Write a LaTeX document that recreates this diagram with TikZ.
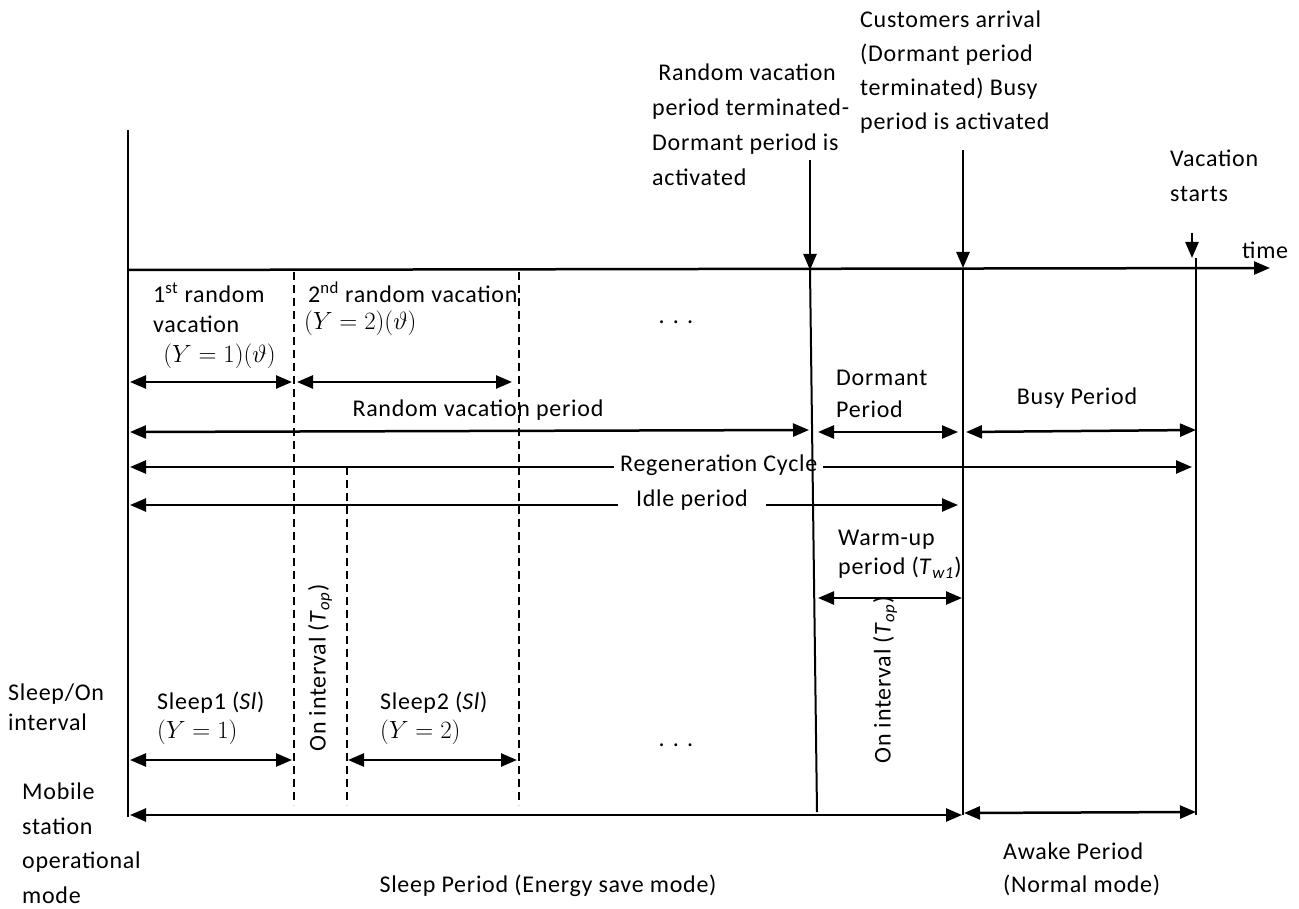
\documentclass[tikz,border=0pt]{standalone}
\usepackage{fontspec}
\setmainfont{Carlito}[LetterSpace=3]
\usetikzlibrary{arrows.meta}
\tikzset{
  lbl/.style={font=\fontsize{24}{#1}\selectfont, inner sep=0pt, align=left},
  lbl/.default=35,
  dbl/.style={{Triangle[length=16pt,width=13pt]}-{Triangle[length=16pt,width=13pt]}, line width=2.5pt},
  dwn/.style={-{Triangle[length=16pt,width=13pt]}, line width=2.5pt},
  vline/.style={line width=2pt},
  dline/.style={line width=1.5pt, dash pattern=on 8pt off 5pt},
  gap/.style={fill=white, inner xsep=10pt, inner ysep=2pt}
}
\begin{document}
\begin{tikzpicture}[x=1pt,y=-1pt]
\useasboundingbox (0,0) rectangle (1299,909);
% grid coordinates
\coordinate (t0) at (128,130); \coordinate (b0) at (128,817);
\coordinate (ax0) at (128,270); \coordinate (ax1) at (1270,268);
\coordinate (v1t) at (810,270); \coordinate (v1b) at (817,812);
\coordinate (v2t) at (963,268); \coordinate (v2b) at (963,815);
\coordinate (v3t) at (1196,258); \coordinate (v3b) at (1196,815);
\coordinate (a1s) at (810,160); \coordinate (a2s) at (963,150);
\coordinate (a3s) at (1192,233); \coordinate (a3e) at (1192,258);
\coordinate (d1t) at (294,272); \coordinate (d1b) at (294,805);
\coordinate (d2t) at (347,467); \coordinate (d2b) at (347,805);
\coordinate (d3t) at (519,272); \coordinate (d3b) at (519,805);
% row endpoints
\coordinate (r1a) at (130,382); \coordinate (r1b) at (292,382);
\coordinate (r1c) at (297,382); \coordinate (r1d) at (512,382);
\coordinate (r2a) at (130,432); \coordinate (r2b) at (809,430);
\coordinate (r2c) at (818,432); \coordinate (r2d) at (958,432);
\coordinate (r2e) at (966,432); \coordinate (r2f) at (1196,430);
\coordinate (r3a) at (130,467); \coordinate (r3b) at (1192,467);
\coordinate (r4a) at (130,505); \coordinate (r4b) at (958,505);
\coordinate (r5a) at (818,598); \coordinate (r5b) at (962,598);
\coordinate (r6a) at (130,760); \coordinate (r6b) at (292,760);
\coordinate (r6c) at (348,760); \coordinate (r6d) at (517,760);
\coordinate (r7a) at (130,815); \coordinate (r7b) at (962,815);
\coordinate (r7c) at (964,813); \coordinate (r7d) at (1196,812);

% time axis and event arrows
\draw[dwn] (ax0) -- (ax1);
\draw[dwn] (a1s) -- (v1t);
\draw[dwn] (a2s) -- (v2t);
\draw[dwn] (a3s) -- (a3e);

% horizontal interval arrows
\draw[dbl] (r1a) -- (r1b);
\draw[dbl] (r1c) -- (r1d);
\draw[dbl] (r2a) -- (r2b);
\draw[dbl] (r2c) -- (r2d);
\draw[dbl] (r2e) -- (r2f);
\draw[dbl] (r3a) -- (r3b);
\draw[dbl] (r4a) -- (r4b);
\draw[dbl] (r5a) -- (r5b);
\draw[dbl] (r6a) -- (r6b);
\draw[dbl] (r6c) -- (r6d);
\draw[dbl] (r7a) -- (r7b);
\draw[dbl] (r7c) -- (r7d);

% labels on top of lines
\node[lbl, gap, inner xsep=6pt, anchor=west] (regen) at (614,465) {Regeneration Cycle};
\node[lbl, gap, inner xsep=18pt, anchor=center] (idle) at (692,500) {Idle period};
\node[lbl, anchor=center] (rvp) at (478,410) {Random vacation period};

% vertical lines
\draw[vline] (t0) -- (b0);
\draw[vline] (v1t) -- (v1b);
\draw[vline] (v2t) -- (v2b);
\draw[vline] (v3t) -- (v3b);
\draw[dline] (d1t) -- (d1b);
\draw[dline] (d2t) -- (d2b);
\draw[dline] (d3t) -- (d3b);

% other labels
\node[lbl, anchor=west] (rvterm) at (652,125) {\ Random vacation\\period terminated-\\Dormant period is\\activated};
\node[lbl=34, anchor=west] (cust) at (860,72) {Customers arrival\\(Dormant period\\terminated) Busy\\period is activated};
\node[lbl, anchor=west] (vst) at (1170,176) {Vacation\\starts};
\node[lbl, anchor=west] (time) at (1242,250) {time};

\node[lbl=30, anchor=west] (v1) at (153,326) {1\textsuperscript{st} random\\vacation\\\ \,$(Y=1)(\vartheta)$};
\node[lbl=27, anchor=west] (v2) at (304,309) {\,2\textsuperscript{nd} random vacation\\$(Y=2)(\vartheta)$};
\node[lbl, anchor=center] (dots1) at (676,322) {. . .};

\node[lbl=32, anchor=west] (dorm) at (836,394) {Dormant\\Period};
\node[lbl, anchor=center] (busy) at (1077,398) {Busy Period};
\node[lbl=29, anchor=west] (warm) at (838,554) {Warm-up\\period (\textit{T}\textsubscript{\textit{w1}})};

\node[lbl, rotate=90, anchor=center] (on1) at (320,668) {On interval (\textit{T}\textsubscript{\textit{op}})};
\node[lbl, rotate=90, anchor=center] (on2) at (885,680) {On interval (\textit{T}\textsubscript{\textit{op}})};

\node[lbl=29, anchor=west] (s1) at (157,718) {Sleep1 (\textit{Sl})\\$(Y=1)$};
\node[lbl=29, anchor=west] (s2) at (380,718) {Sleep2 (\textit{Sl})\\$(Y=2)$};
\node[lbl, anchor=center] (dots2) at (676,745) {. . .};

\node[lbl=30, anchor=west] (sleepon) at (8,707) {Sleep/On\\interval};
\node[lbl=34.5, anchor=west] (mobile) at (22,843) {Mobile\\station\\operational\\mode};
\node[lbl, anchor=center] (sp) at (548,886) {Sleep Period (Energy save mode)};
\node[lbl=33, anchor=west] (awake) at (1003,869) {Awake Period\\(Normal mode)};
\end{tikzpicture}
\end{document}
